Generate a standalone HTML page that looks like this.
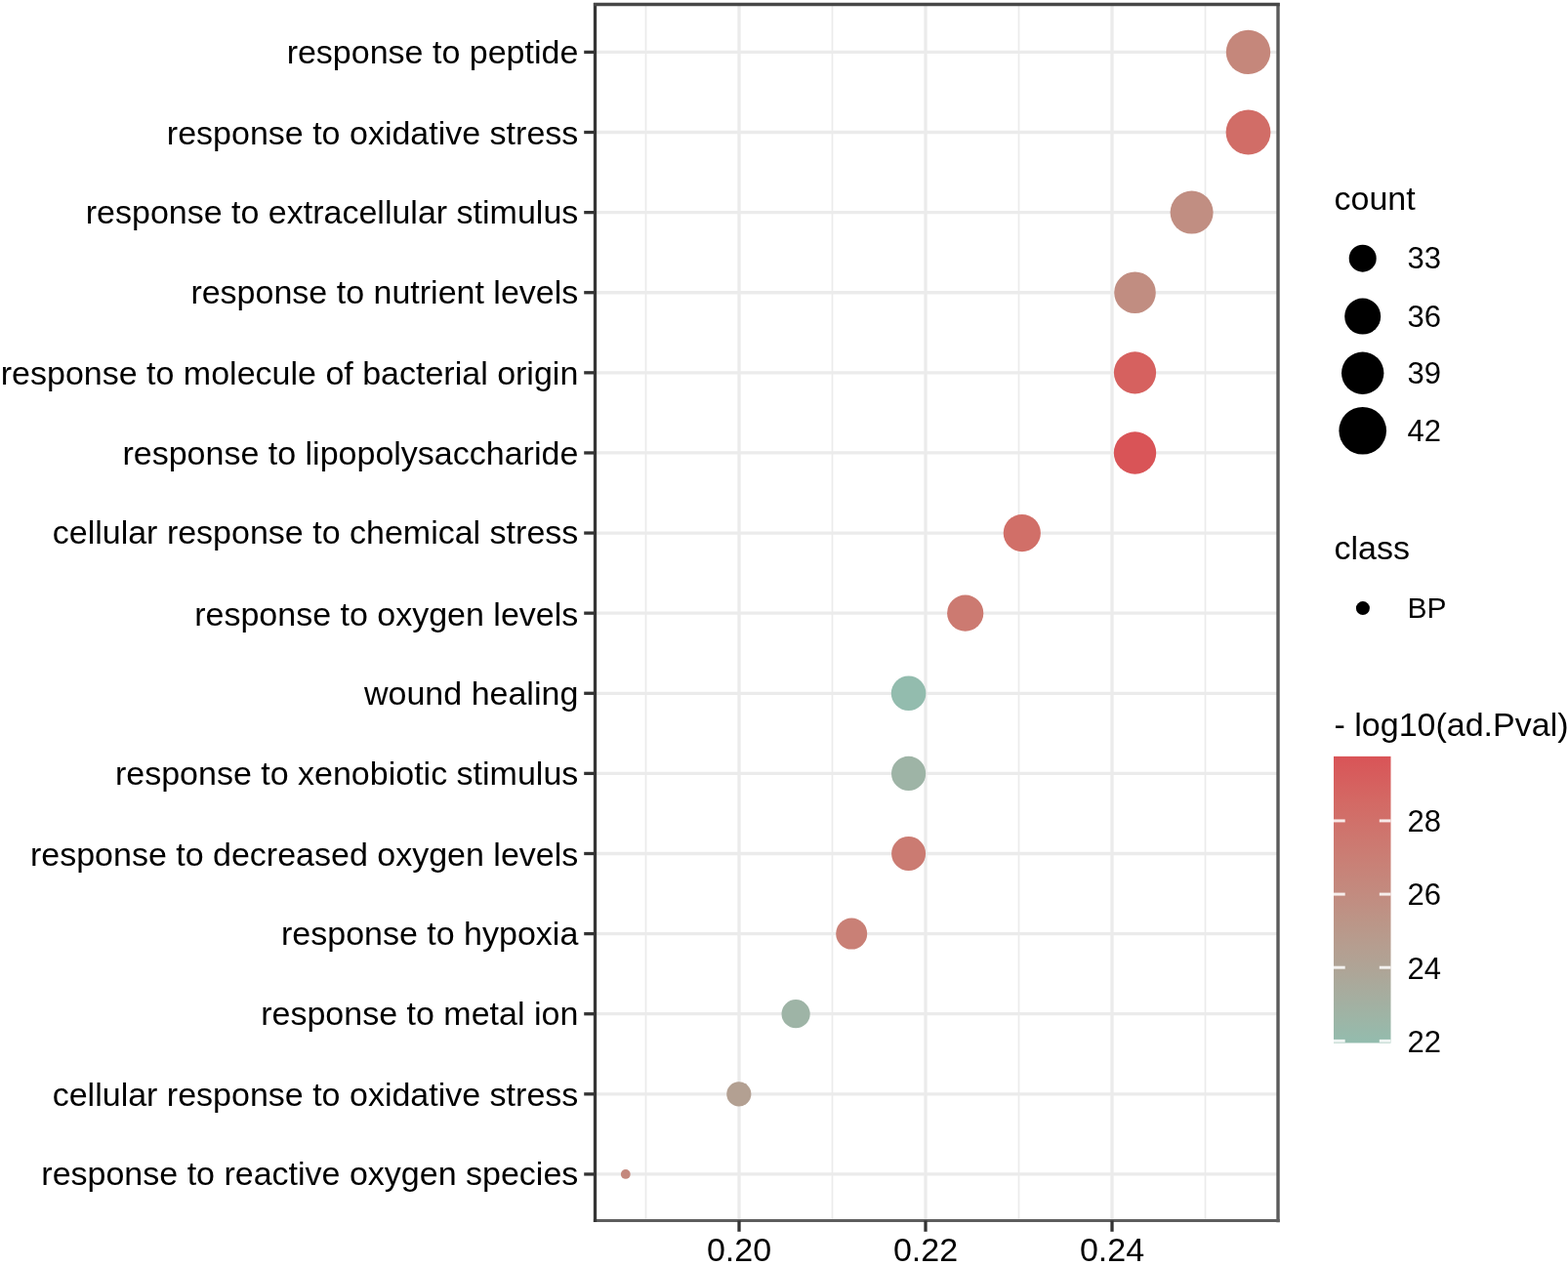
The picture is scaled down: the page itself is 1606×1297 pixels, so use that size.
<!DOCTYPE html><html><head><meta charset="utf-8"><style>html,body{margin:0;padding:0;background:#fff}svg{display:block}text{font-family:"Liberation Sans",Arial,Helvetica,sans-serif;fill:#000}</style></head><body>
<svg width="1606" height="1297" viewBox="0 0 1606 1297">
<rect x="0" y="0" width="1606" height="1297" fill="#fff"/>
<line x1="661.5" y1="4.5" x2="661.5" y2="1250.5" stroke="#EBEBEB" stroke-width="1.7"/>
<line x1="852.5" y1="4.5" x2="852.5" y2="1250.5" stroke="#EBEBEB" stroke-width="1.7"/>
<line x1="1043.5" y1="4.5" x2="1043.5" y2="1250.5" stroke="#EBEBEB" stroke-width="1.7"/>
<line x1="1234.5" y1="4.5" x2="1234.5" y2="1250.5" stroke="#EBEBEB" stroke-width="1.7"/>
<line x1="757.0" y1="4.5" x2="757.0" y2="1250.5" stroke="#EBEBEB" stroke-width="3.3"/>
<line x1="948.0" y1="4.5" x2="948.0" y2="1250.5" stroke="#EBEBEB" stroke-width="3.3"/>
<line x1="1139.0" y1="4.5" x2="1139.0" y2="1250.5" stroke="#EBEBEB" stroke-width="3.3"/>
<line x1="609.5" y1="53.40" x2="1309.0" y2="53.40" stroke="#EBEBEB" stroke-width="3.3"/>
<line x1="609.5" y1="135.51" x2="1309.0" y2="135.51" stroke="#EBEBEB" stroke-width="3.3"/>
<line x1="609.5" y1="217.62" x2="1309.0" y2="217.62" stroke="#EBEBEB" stroke-width="3.3"/>
<line x1="609.5" y1="299.73" x2="1309.0" y2="299.73" stroke="#EBEBEB" stroke-width="3.3"/>
<line x1="609.5" y1="381.84" x2="1309.0" y2="381.84" stroke="#EBEBEB" stroke-width="3.3"/>
<line x1="609.5" y1="463.95" x2="1309.0" y2="463.95" stroke="#EBEBEB" stroke-width="3.3"/>
<line x1="609.5" y1="546.06" x2="1309.0" y2="546.06" stroke="#EBEBEB" stroke-width="3.3"/>
<line x1="609.5" y1="628.17" x2="1309.0" y2="628.17" stroke="#EBEBEB" stroke-width="3.3"/>
<line x1="609.5" y1="710.28" x2="1309.0" y2="710.28" stroke="#EBEBEB" stroke-width="3.3"/>
<line x1="609.5" y1="792.39" x2="1309.0" y2="792.39" stroke="#EBEBEB" stroke-width="3.3"/>
<line x1="609.5" y1="874.50" x2="1309.0" y2="874.50" stroke="#EBEBEB" stroke-width="3.3"/>
<line x1="609.5" y1="956.61" x2="1309.0" y2="956.61" stroke="#EBEBEB" stroke-width="3.3"/>
<line x1="609.5" y1="1038.72" x2="1309.0" y2="1038.72" stroke="#EBEBEB" stroke-width="3.3"/>
<line x1="609.5" y1="1120.83" x2="1309.0" y2="1120.83" stroke="#EBEBEB" stroke-width="3.3"/>
<line x1="609.5" y1="1202.94" x2="1309.0" y2="1202.94" stroke="#EBEBEB" stroke-width="3.3"/>
<circle cx="1278.5" cy="53.40" r="22.7" fill="#C5877B"/>
<circle cx="1278.5" cy="135.51" r="22.9" fill="#D16D67"/>
<circle cx="1220.6" cy="217.62" r="22.0" fill="#C18E82"/>
<circle cx="1162.5" cy="299.73" r="21.3" fill="#C18D81"/>
<circle cx="1162.5" cy="381.84" r="21.6" fill="#D6615F"/>
<circle cx="1162.5" cy="463.95" r="21.7" fill="#D95457"/>
<circle cx="1046.8" cy="546.06" r="19.1" fill="#D16F68"/>
<circle cx="988.7" cy="628.17" r="18.6" fill="#CC7A71"/>
<circle cx="930.6" cy="710.28" r="17.8" fill="#93BCAE"/>
<circle cx="930.6" cy="792.39" r="17.6" fill="#9EB4A6"/>
<circle cx="930.6" cy="874.50" r="17.5" fill="#CB7B72"/>
<circle cx="872.2" cy="956.61" r="16.0" fill="#C98076"/>
<circle cx="815.1" cy="1038.72" r="14.6" fill="#9EB4A6"/>
<circle cx="756.8" cy="1120.83" r="12.6" fill="#B3A092"/>
<circle cx="640.8" cy="1202.94" r="4.9" fill="#C4887D"/>
<line x1="1309.0" y1="2.9" x2="1309.0" y2="1252.2" stroke="#5a5a5a" stroke-width="3.4"/>
<line x1="607.9" y1="1250.5" x2="1310.7" y2="1250.5" stroke="#5e5e5e" stroke-width="3.1"/>
<line x1="609.5" y1="2.9" x2="609.5" y2="1252.1" stroke="#363636" stroke-width="3.3"/>
<line x1="607.9" y1="4.5" x2="1310.7" y2="4.5" stroke="#474747" stroke-width="3.3"/>
<line x1="598.2" y1="53.40" x2="609.5" y2="53.40" stroke="#333333" stroke-width="3.3"/>
<line x1="598.2" y1="135.51" x2="609.5" y2="135.51" stroke="#333333" stroke-width="3.3"/>
<line x1="598.2" y1="217.62" x2="609.5" y2="217.62" stroke="#333333" stroke-width="3.3"/>
<line x1="598.2" y1="299.73" x2="609.5" y2="299.73" stroke="#333333" stroke-width="3.3"/>
<line x1="598.2" y1="381.84" x2="609.5" y2="381.84" stroke="#333333" stroke-width="3.3"/>
<line x1="598.2" y1="463.95" x2="609.5" y2="463.95" stroke="#333333" stroke-width="3.3"/>
<line x1="598.2" y1="546.06" x2="609.5" y2="546.06" stroke="#333333" stroke-width="3.3"/>
<line x1="598.2" y1="628.17" x2="609.5" y2="628.17" stroke="#333333" stroke-width="3.3"/>
<line x1="598.2" y1="710.28" x2="609.5" y2="710.28" stroke="#333333" stroke-width="3.3"/>
<line x1="598.2" y1="792.39" x2="609.5" y2="792.39" stroke="#333333" stroke-width="3.3"/>
<line x1="598.2" y1="874.50" x2="609.5" y2="874.50" stroke="#333333" stroke-width="3.3"/>
<line x1="598.2" y1="956.61" x2="609.5" y2="956.61" stroke="#333333" stroke-width="3.3"/>
<line x1="598.2" y1="1038.72" x2="609.5" y2="1038.72" stroke="#333333" stroke-width="3.3"/>
<line x1="598.2" y1="1120.83" x2="609.5" y2="1120.83" stroke="#333333" stroke-width="3.3"/>
<line x1="598.2" y1="1202.94" x2="609.5" y2="1202.94" stroke="#333333" stroke-width="3.3"/>
<line x1="757.0" y1="1250.5" x2="757.0" y2="1261.8" stroke="#333333" stroke-width="3.3"/>
<line x1="948.0" y1="1250.5" x2="948.0" y2="1261.8" stroke="#333333" stroke-width="3.3"/>
<line x1="1139.0" y1="1250.5" x2="1139.0" y2="1261.8" stroke="#333333" stroke-width="3.3"/>
<text x="592.3" y="64.60" font-size="34" text-anchor="end">response to peptide</text>
<text x="592.3" y="147.50" font-size="34" text-anchor="end">response to oxidative stress</text>
<text x="592.3" y="229.20" font-size="34" text-anchor="end">response to extracellular stimulus</text>
<text x="592.3" y="311.00" font-size="34" text-anchor="end">response to nutrient levels</text>
<text x="592.3" y="394.20" font-size="34" text-anchor="end">response to molecule of bacterial origin</text>
<text x="592.3" y="475.60" font-size="34" text-anchor="end">response to lipopolysaccharide</text>
<text x="592.3" y="557.40" font-size="34" text-anchor="end">cellular response to chemical stress</text>
<text x="592.3" y="640.60" font-size="34" text-anchor="end">response to oxygen levels</text>
<text x="592.3" y="721.60" font-size="34" text-anchor="end">wound healing</text>
<text x="592.3" y="803.60" font-size="34" text-anchor="end">response to xenobiotic stimulus</text>
<text x="592.3" y="886.60" font-size="34" text-anchor="end">response to decreased oxygen levels</text>
<text x="592.3" y="967.60" font-size="34" text-anchor="end">response to hypoxia</text>
<text x="592.3" y="1049.90" font-size="34" text-anchor="end">response to metal ion</text>
<text x="592.3" y="1132.60" font-size="34" text-anchor="end">cellular response to oxidative stress</text>
<text x="592.3" y="1214.10" font-size="34" text-anchor="end">response to reactive oxygen species</text>
<text x="757.0" y="1292.2" font-size="34" text-anchor="middle">0.20</text>
<text x="948.0" y="1292.2" font-size="34" text-anchor="middle">0.22</text>
<text x="1139.0" y="1292.2" font-size="34" text-anchor="middle">0.24</text>
<text x="1366.5" y="214.7" font-size="34">count</text>
<circle cx="1395.7" cy="264.7" r="14.0" fill="#000"/>
<text x="1441.5" y="275.1" font-size="31">33</text>
<circle cx="1395.7" cy="324.1" r="18.5" fill="#000"/>
<text x="1441.5" y="334.5" font-size="31">36</text>
<circle cx="1395.7" cy="382.2" r="21.7" fill="#000"/>
<text x="1441.5" y="392.6" font-size="31">39</text>
<circle cx="1395.7" cy="441.2" r="24.3" fill="#000"/>
<text x="1441.5" y="451.6" font-size="31">42</text>
<text x="1366.5" y="572.7" font-size="34">class</text>
<circle cx="1395.9" cy="623.1" r="7" fill="#000"/>
<text x="1441.5" y="633.4" font-size="30">BP</text>
<text x="1366.5" y="753.6" font-size="34">- log10(ad.Pval)</text>
<defs><linearGradient id="cb" x1="0" y1="1" x2="0" y2="0">
<stop offset="0.0000" stop-color="#93BCAE"/><stop offset="0.0833" stop-color="#9DB5A6"/><stop offset="0.1667" stop-color="#A6AD9F"/><stop offset="0.2500" stop-color="#AEA597"/><stop offset="0.3333" stop-color="#B59E90"/><stop offset="0.4167" stop-color="#BB9688"/><stop offset="0.5000" stop-color="#C18D81"/><stop offset="0.5833" stop-color="#C6857A"/><stop offset="0.6667" stop-color="#CB7C73"/><stop offset="0.7500" stop-color="#CF736C"/><stop offset="0.8333" stop-color="#D36A65"/><stop offset="0.9167" stop-color="#D65F5E"/><stop offset="1.0000" stop-color="#D95457"/>
</linearGradient></defs>
<rect x="1366" y="774.9" width="58.5" height="293.6" fill="url(#cb)"/>
<line x1="1366" y1="1066.4" x2="1377.7" y2="1066.4" stroke="#fff" stroke-width="3" stroke-opacity="0.85"/>
<line x1="1412.8" y1="1066.4" x2="1424.5" y2="1066.4" stroke="#fff" stroke-width="3" stroke-opacity="0.85"/>
<text x="1441.5" y="1077.7" font-size="31">22</text>
<line x1="1366" y1="991.2" x2="1377.7" y2="991.2" stroke="#fff" stroke-width="3" stroke-opacity="0.85"/>
<line x1="1412.8" y1="991.2" x2="1424.5" y2="991.2" stroke="#fff" stroke-width="3" stroke-opacity="0.85"/>
<text x="1441.5" y="1002.5" font-size="31">24</text>
<line x1="1366" y1="916.1" x2="1377.7" y2="916.1" stroke="#fff" stroke-width="3" stroke-opacity="0.85"/>
<line x1="1412.8" y1="916.1" x2="1424.5" y2="916.1" stroke="#fff" stroke-width="3" stroke-opacity="0.85"/>
<text x="1441.5" y="927.4" font-size="31">26</text>
<line x1="1366" y1="840.9" x2="1377.7" y2="840.9" stroke="#fff" stroke-width="3" stroke-opacity="0.85"/>
<line x1="1412.8" y1="840.9" x2="1424.5" y2="840.9" stroke="#fff" stroke-width="3" stroke-opacity="0.85"/>
<text x="1441.5" y="852.2" font-size="31">28</text>
</svg></body></html>
